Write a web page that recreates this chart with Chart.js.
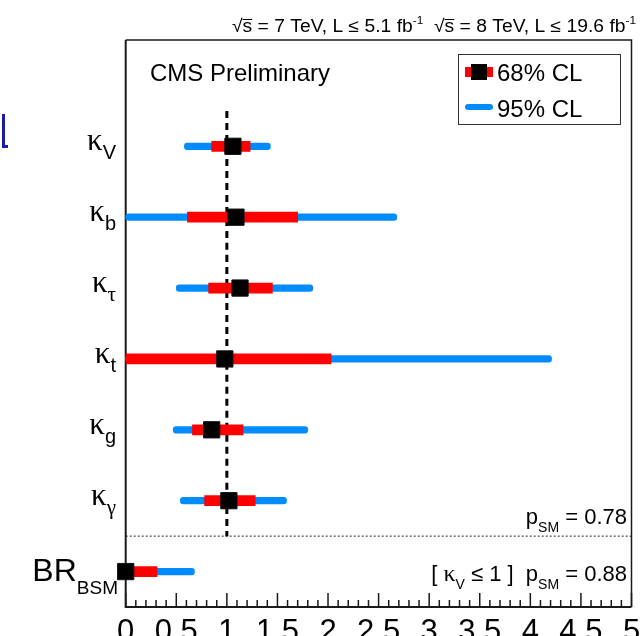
<!DOCTYPE html>
<html>
<head>
<meta charset="utf-8">
<script src="https://cdn.jsdelivr.net/npm/chart.js@4.4.1/dist/chart.umd.min.js"></script>
<style>
  html, body { margin: 0; padding: 0; background: #fff; }
  #wrap { position: relative; width: 644px; height: 636px; }
</style>
</head>
<body>
<div id="wrap"><canvas id="c" width="644" height="636"></canvas></div>
<script>
// Coupling modifiers, top to bottom
const rowMain = ['κ', 'κ', 'κ', 'κ', 'κ', 'κ', 'BR'];
const rowSub  = ['V', 'b', 'τ', 't', 'g', 'γ', 'BSM'];
const rowIndex = [0, 1, 2, 3, 4, 5, 6];

// Best-fit values and confidence intervals
const bestFit = [1.06, 1.09, 1.13, 0.98, 0.85, 1.02, 0.00];
const lo68    = [0.85, 0.61, 0.82, 0.00, 0.66, 0.78, 0.00];
const hi68    = [1.23, 1.70, 1.45, 2.03, 1.16, 1.28, 0.31];
const lo95    = [0.58, 0.00, 0.50, 0.00, 0.47, 0.54, 0.00];
const hi95    = [1.43, 2.68, 1.85, 4.21, 1.80, 1.59, 0.68];

// Standard Model expectation (vertical reference line)
const smValue = [1];
// Boundary between the coupling block and BR_BSM
const separatorY = [5.5];

// Axis ticks
const xTickValues = [0, 0.5, 1, 1.5, 2, 2.5, 3, 3.5, 4, 4.5, 5];
const xTickLabels = ['0', '0.5', '1', '1.5', '2', '2.5', '3', '3.5', '4', '4.5', '5'];

// Compatibility with the SM
const pSM = ['0.78', '0.88'];

const RED = '#ff0000';
const BLUE = 'rgb(0,140,255)';
const SANS = '"Liberation Sans", Arial, Helvetica, sans-serif';
const SERIF = '"Liberation Serif", "Times New Roman", serif';

function drawRuns(ctx, runs, xRight, baseline, fitWidth) {
  let total = 0;
  runs.forEach(r => { ctx.font = r.font; r.w = ctx.measureText(r.t).width; total += r.w; });
  const sx = fitWidth ? fitWidth / total : 1;
  ctx.save();
  ctx.translate(xRight - total * sx, 0);
  ctx.scale(sx, 1);
  let x = 0;
  runs.forEach(r => {
    ctx.font = r.font;
    ctx.fillText(r.t, x, baseline + (r.dy || 0));
    if (r.over) {
      ctx.fillRect(x, baseline + (r.dy || 0) - r.over, r.w, 1);
    }
    x += r.w;
  });
  ctx.restore();
  return xRight - total * sx;
}

const decorations = {
  id: 'decorations',
  beforeDatasetsDraw(chart) {
    // frame (drawn under the markers so points on the axis sit on top)
    const ctx = chart.ctx;
    const a = chart.chartArea;
    ctx.save();
    ctx.strokeStyle = '#1a1a1a';
    ctx.lineWidth = 2;
    ctx.beginPath();
    ctx.moveTo(a.left, a.top); ctx.lineTo(a.left, a.bottom); ctx.lineTo(a.right, a.bottom);
    ctx.stroke();
    ctx.lineWidth = 1.5;
    ctx.beginPath();
    ctx.moveTo(a.left, a.top); ctx.lineTo(a.right, a.top); ctx.lineTo(a.right, a.bottom);
    ctx.stroke();
    ctx.restore();
  },
  afterDraw(chart) {
    const ctx = chart.ctx;
    const a = chart.chartArea;
    const xs = chart.scales.x;
    const ys = chart.scales.y;
    ctx.save();
    ctx.fillStyle = '#000';
    ctx.textAlign = 'left';
    ctx.textBaseline = 'alphabetic';

    // x-axis tick marks, pointing into the frame
    ctx.strokeStyle = '#1a1a1a';
    ctx.lineWidth = 1.5;
    ctx.beginPath();
    for (let k = 0; k <= 50; k++) {
      const px = xs.getPixelForValue(k / 10);
      const len = (k % 5 === 0) ? 14 : 7;
      ctx.moveTo(px, a.bottom);
      ctx.lineTo(px, a.bottom - len);
    }
    ctx.stroke();

    // row labels
    rowIndex.forEach(i => {
      const py = ys.getPixelForValue(i);
      if (i < 6) {
        const greekSub = /[α-ω]/.test(rowSub[i]);
        drawRuns(ctx, [
          { t: rowMain[i], font: '31px ' + SERIF },
          { t: rowSub[i], font: (greekSub ? '21px ' + SERIF : '20px ' + SANS), dy: 9 }
        ], 116, py + 4);
      } else {
        drawRuns(ctx, [
          { t: rowMain[i], font: '32px ' + SANS },
          { t: rowSub[i], font: '19px ' + SANS, dy: 13 }
        ], 118, py + 9);
      }
    });

    // p-values
    const sepPx = ys.getPixelForValue(separatorY[0]);
    drawRuns(ctx, [
      { t: 'p', font: '22px ' + SANS },
      { t: 'SM', font: '14px ' + SANS, dy: 8 },
      { t: ' = ' + pSM[0], font: '22px ' + SANS }
    ], 627, sepPx - 12);
    drawRuns(ctx, [
      { t: '[ ', font: '22px ' + SANS },
      { t: 'κ', font: '24px ' + SERIF },
      { t: 'V', font: '14px ' + SANS, dy: 8 },
      { t: ' ≤ 1 ]  ', font: '22px ' + SANS },
      { t: 'p', font: '22px ' + SANS },
      { t: 'SM', font: '14px ' + SANS, dy: 8 },
      { t: ' = ' + pSM[1], font: '22px ' + SANS }
    ], 627, ys.getPixelForValue(6) + 9);

    // experiment label
    ctx.font = '24px ' + SANS;
    ctx.fillText('CMS Preliminary', 150, 81);

    // energy / luminosity header
    drawRuns(ctx, [
      { t: '√', font: '18px ' + SANS },
      { t: 's', font: '18px ' + SANS, over: 13 },
      { t: ' = 7 TeV, L ≤ 5.1 fb', font: '18px ' + SANS },
      { t: '-1', font: '11px ' + SANS, dy: -8 },
      { t: '  √', font: '18px ' + SANS },
      { t: 's', font: '18px ' + SANS, over: 13 },
      { t: ' = 8 TeV, L ≤ 19.6 fb', font: '18px ' + SANS },
      { t: '-1', font: '11px ' + SANS, dy: -8 }
    ], 636, 32, 404);

    // legend
    ctx.fillStyle = '#fff';
    ctx.fillRect(458.5, 54.5, 162, 70);
    ctx.strokeStyle = '#333';
    ctx.lineWidth = 1;
    ctx.strokeRect(458.5, 54.5, 162, 70);
    ctx.fillStyle = RED;
    ctx.fillRect(465, 67, 28, 10);
    ctx.fillStyle = '#000';
    ctx.fillRect(471, 64, 16, 16);
    ctx.strokeStyle = BLUE;
    ctx.lineWidth = 6;
    ctx.lineCap = 'round';
    ctx.beginPath(); ctx.moveTo(468, 107); ctx.lineTo(490, 107); ctx.stroke();
    ctx.fillStyle = '#000';
    ctx.font = '24px ' + SANS;
    ctx.fillText('68% CL', 497, 81);
    ctx.fillText('95% CL', 497, 117);

    // clipped glyph at the left edge
    ctx.fillStyle = '#1a1aa6';
    ctx.fillRect(2, 114, 3, 34);
    ctx.fillRect(2, 145, 6, 3);
    ctx.restore();
  }
};

const data = {
  datasets: [
    {
      type: 'scatter',
      label: 'best fit',
      data: rowIndex.map(i => ({ x: bestFit[i], y: i })),
      pointStyle: 'rect',
      radius: 11.5,
      backgroundColor: '#000',
      borderColor: '#111',
      borderWidth: 1,
      clip: false,
      order: 0
    },
    {
      type: 'bar',
      label: '68% CL',
      indexAxis: 'y',
      data: rowIndex.map(i => ({ x: [lo68[i], hi68[i]], y: i })),
      backgroundColor: RED,
      barThickness: 10,
      grouped: false,
      borderSkipped: false,
      order: 1
    },
    {
      type: 'bar',
      label: '95% CL',
      indexAxis: 'y',
      data: rowIndex.map(i => ({ x: [lo95[i], hi95[i]], y: i })),
      backgroundColor: BLUE,
      barThickness: 6.5,
      borderRadius: 3.2,
      grouped: false,
      borderSkipped: false,
      clip: 4,
      order: 2
    },
    {
      type: 'line',
      label: 'SM',
      data: [{ x: smValue[0], y: -0.5 }, { x: smValue[0], y: separatorY[0] }],
      borderColor: '#000',
      borderWidth: 3,
      borderDash: [7, 5],
      pointRadius: 0,
      fill: false,
      order: 3
    },
    {
      type: 'line',
      label: 'separator',
      data: [{ x: 0, y: separatorY[0] }, { x: 5, y: separatorY[0] }],
      borderColor: '#222',
      borderWidth: 1,
      borderDash: [2, 2],
      pointRadius: 0,
      fill: false,
      order: 4
    }
  ]
};

new Chart(document.getElementById('c'), {
  type: 'bar',
  data,
  options: {
    responsive: false,
    animation: false,
    devicePixelRatio: 1,
    layout: { padding: { left: 125.7, right: 6.5, top: 40, bottom: 0 } },
    plugins: { legend: { display: false }, tooltip: { enabled: false } },
    scales: {
      x: {
        type: 'linear',
        position: 'bottom',
        min: 0,
        max: 5,
        offset: false,
        grid: { display: false, drawTicks: false, offset: false },
        border: { display: false },
        afterBuildTicks(s) { s.ticks = xTickValues.map(v => ({ value: v })); },
        afterFit(s) { s.paddingLeft = 0; s.paddingRight = 0; s.height = 29; },
        ticks: {
          autoSkip: false,
          maxRotation: 0,
          padding: 7,
          color: '#000',
          font: { family: SANS, size: 31 },
          callback: (v, idx) => xTickLabels[idx]
        }
      },
      y: {
        type: 'linear',
        display: false,
        reverse: true,
        offset: false,
        grid: { offset: false },
        min: -1.5,
        max: 6.5
      }
    }
  },
  plugins: [decorations]
});
</script>
</body>
</html>
